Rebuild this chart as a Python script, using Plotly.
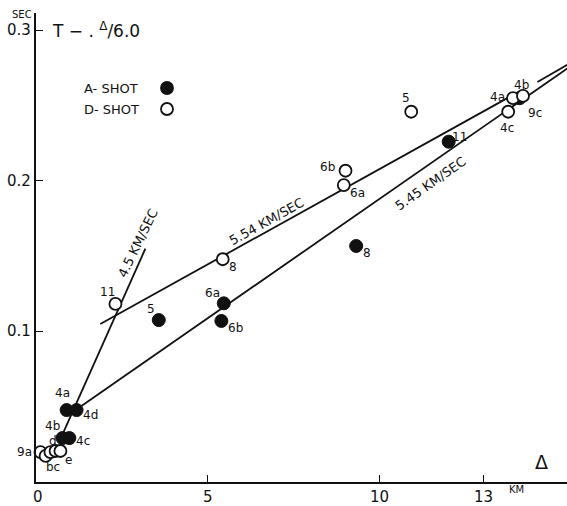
import plotly.graph_objects as go

# Reduced travel time T - Δ/6.0 (sec) against distance Δ (km)
a_dist = [0.89, 1.18, 0.77, 0.97, 3.57, 5.46, 5.39, 9.31, 12.0, 14.06]
a_time = [0.0478, 0.0478, 0.0292, 0.0292, 0.1076, 0.1187, 0.107, 0.1568, 0.2261, 0.255]
a_name = ["4a", "4d", "4b", "4c", "5", "6a", "6b", "8", "11", "9c"]

d_dist = [0.13, 0.28, 0.42, 0.57, 0.71, 2.31, 5.43, 8.95, 9.0, 10.91, 13.87, 14.16, 13.73]
d_time = [0.0199, 0.0173, 0.0199, 0.0206, 0.0206, 0.1183, 0.148, 0.1973, 0.2068, 0.246, 0.255, 0.2565, 0.246]
d_name = ["9a", "bc", "", "d", "e", "11", "8", "6a", "6b", "5", "4a", "4b", "4c"]

# label offsets (pixels) for each point name
a_off = [(-4, 17), (14, -5), (-10, 12), (14, -3), (-8, 11), (-11, 10), (14, -7),
         (11, -7), (11, 5), (15, -15)]
d_off = [(-16, 0), (7, -11), (0, 0), (-3, 10), (8, -9), (-8, 12), (10, -8), (14, -8),
         (-18, 4), (-5, 14), (-16, 1), (-1, 11), (-1, -16)]

# fitted velocity lines: (start, end) in km / sec
line_45 = ([0.80, 3.18], [0.0332, 0.155])
line_554 = ([1.87, 14.08, None, 14.58, 15.45], [0.105, 0.2598, None, 0.2658, 0.2772])
line_545 = ([1.32, 15.45], [0.0505, 0.2748])

x_ticks = [5, 10, 13]
y_ticks = [0.1, 0.2, 0.3]

W, H = 567, 506
L, R, T, B = 36, 0, 13, 24
X_MAX, Y_MAX = 15.44, 0.3116
FONT = "DejaVu Sans"
INK = "#111111"


def paper(px, py):
    return (px - L) / (W - L - R), (H - B - py) / (H - T - B)


fig = go.Figure()

for xs, ys in (line_45, line_554, line_545):
    fig.add_trace(go.Scatter(x=xs, y=ys, mode="lines", line=dict(color=INK, width=1.8),
                             hoverinfo="skip", showlegend=False, connectgaps=False))

fig.add_trace(go.Scatter(x=a_dist, y=a_time, mode="markers", name="A- SHOT",
                         marker=dict(size=13, color=INK, line=dict(color=INK, width=1)),
                         showlegend=False, cliponaxis=False))
fig.add_trace(go.Scatter(x=d_dist, y=d_time, mode="markers", name="D- SHOT",
                         marker=dict(size=12, color="white", line=dict(color=INK, width=1.8)),
                         showlegend=False, cliponaxis=False))

ann = []
for xs, ys, names, offs in ((a_dist, a_time, a_name, a_off), (d_dist, d_time, d_name, d_off)):
    for x, y, n, (dx, dy) in zip(xs, ys, names, offs):
        if n:
            ann.append(dict(x=x, y=y, text=n, showarrow=False, xshift=dx, yshift=dy,
                            xanchor="center", yanchor="middle",
                            font=dict(family=FONT, size=12, color=INK)))

# velocity labels along the lines
for text, x, y, ang in (("4.5 KM/SEC", 2.98, 0.1588, -64),
                        ("5.54 KM/SEC", 6.70, 0.1734, -29),
                        ("5.45 KM/SEC", 11.47, 0.1985, -35)):
    ann.append(dict(x=x, y=y, text=text, showarrow=False, textangle=ang,
                    xanchor="center", yanchor="middle",
                    font=dict(family=FONT, size=13, color=INK)))

# axis tick labels
_, py = paper(0, 497)
for v in [0] + x_ticks:
    ann.append(dict(x=v + (0.05 if v == 0 else 0), xref="x", y=py, yref="paper", text=str(v),
                    showarrow=False, xanchor="center", yanchor="middle",
                    font=dict(family=FONT, size=15, color=INK)))
px, _ = paper(33, 0)
for v in y_ticks:
    ann.append(dict(x=px, xref="paper", y=v, yref="y", text=f"{v:.1f}",
                    showarrow=False, xanchor="right", yanchor="middle",
                    font=dict(family=FONT, size=15, color=INK)))

for text, pxy, size, anchor in (("SEC", (22, 14), 10, "center"),
                                ("KM", (516, 489), 10, "center"),
                                ("Δ", (541, 462), 19, "center"),
                                ("T − . <sup>Δ</sup>/6.0", (50, 30), 17, "left"),
                                ("A- SHOT", (82, 88), 13, "left"),
                                ("D- SHOT", (82, 109), 13, "left")):
    px, py = paper(*pxy)
    ann.append(dict(x=px, y=py, xref="paper", yref="paper", text=text, showarrow=False,
                    xanchor=anchor, yanchor="middle",
                    font=dict(family=FONT, size=size, color=INK)))

# legend symbols
shapes = []
for pyy, fill in ((88, INK), (109, "white")):
    px, py = paper(167, pyy)
    shapes.append(dict(type="circle", xref="paper", yref="paper", xsizemode="pixel",
                       ysizemode="pixel", xanchor=px, yanchor=py, x0=-6, x1=6, y0=-6, y1=6,
                       fillcolor=fill, line=dict(color=INK, width=1.8)))

fig.update_layout(
    width=W, height=H, margin=dict(l=L, r=R, t=T, b=B),
    paper_bgcolor="white", plot_bgcolor="white",
    annotations=ann, shapes=shapes,
    xaxis=dict(range=[0, X_MAX], showgrid=False, zeroline=False, showline=True,
               linecolor=INK, linewidth=2, ticks="inside", ticklen=7, tickcolor=INK,
               tickvals=x_ticks, showticklabels=False, fixedrange=True),
    yaxis=dict(range=[0, Y_MAX], showgrid=False, zeroline=False, showline=True,
               linecolor=INK, linewidth=2, ticks="inside", ticklen=7, tickcolor=INK,
               tickvals=y_ticks, showticklabels=False, fixedrange=True),
)

fig.write_html("out.html")
